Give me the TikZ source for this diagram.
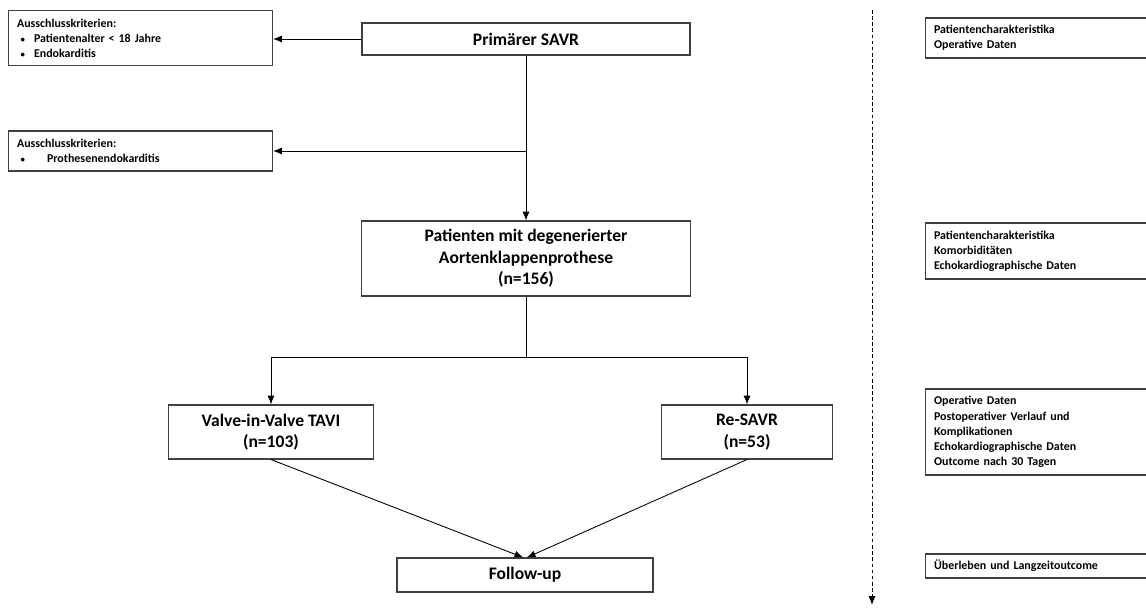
\documentclass[tikz,border=0pt]{standalone}
\usepackage{fontspec}
\setmainfont{Carlito}
\usetikzlibrary{arrows.meta, positioning, calc}
\definecolor{rahmengrau}{RGB}{64,64,64}
\newcommand{\punkt}[1]{\makebox[#1][l]{\hspace{0.07cm}{\fontsize{5}{5}\selectfont\textbullet}}}

\begin{document}
\begin{tikzpicture}[font=\bfseries\fontsize{10}{12.2}\selectfont,
    kasten/.style={draw=rahmengrau, line width=0.6pt, align=center, inner sep=2pt},
    kleinkasten/.style={draw=rahmengrau, line width=0.6pt, align=left, anchor=west,
        font=\bfseries\fontsize{6.8}{8.6}\selectfont, inner xsep=0.17cm, inner ysep=2pt},
    pfeil/.style={-{Latex[length=5pt,width=4pt]}, line width=0.5pt}]
        \useasboundingbox (0,0) rectangle (22.92,-12.26);
        \clip (0,0) rectangle (22.92,-12.26);

        \node[kasten, minimum width=6.56cm, minimum height=0.64cm] (primaer) at (10.52,-0.78) {Primärer SAVR};
        \node[kasten, minimum width=6.58cm, minimum height=1.5cm] (patienten) at (10.52,-5.17)
            {Patienten mit degenerierter\\Aortenklappenprothese\\(n=156)};
        \node[kasten, minimum width=4.1cm, minimum height=1.08cm] (viv) at (5.42,-8.64) {Valve-in-Valve TAVI\\(n=103)};
        \node[kasten, minimum width=3.42cm, minimum height=1.08cm] (resavr) at (14.94,-8.64) {Re-SAVR\\(n=53)};
        \node[kasten, minimum width=5.12cm, minimum height=0.68cm] (followup) at (10.5,-11.5) {Follow-up};

        \node[kleinkasten, text width=4.94cm, minimum height=1.1cm] (ausschluss1) at (0.16,-0.76)
            {Ausschlusskriterien:\\
             \punkt{0.34cm}Patientenalter < 18 Jahre\\
             \punkt{0.34cm}Endokarditis};
        \node[kleinkasten, text width=4.94cm, minimum height=0.8cm] (ausschluss2) at (0.16,-3.02)
            {Ausschlusskriterien:\\
             \punkt{0.6cm}Prothesenendokarditis};

        \foreach \name/\y/\h/\txt in {
            daten1/-0.76/0.8/{Patientencharakteristika\\Operative Daten},
            daten2/-5.02/1.12/{Patientencharakteristika\\Komorbiditäten\\Echokardiographische Daten},
            daten3/-8.64/1.72/{Operative Daten\\Postoperativer Verlauf und\\Komplikationen\\Echokardiographische Daten\\Outcome nach 30 Tagen},
            daten4/-11.32/0.48/{Überleben und Langzeitoutcome}}
        {
            \node[kleinkasten, text width=5cm, minimum height=\h cm] (\name) at (18.5,\y) {\txt};
        }

        \coordinate (gabel) at ($(patienten.south)+(0,-1.22)$);
        \coordinate (zeitoben) at (17.44,-0.2);
        \coordinate (zeitunten) at (17.44,-12.1);

        \draw[pfeil] (primaer.west) -- (primaer.west -| ausschluss1.east);
        \draw[pfeil] (primaer.south) -- (patienten.north);
        \draw[pfeil] (primaer.south |- ausschluss2.east) -- (ausschluss2.east);
        \draw[line width=0.5pt] (patienten.south) -- (gabel);
        \draw[pfeil] (gabel) -| (viv.north);
        \draw[pfeil] (gabel) -| (resavr.north);
        \draw[pfeil] (viv.south) -- ([xshift=-1pt]followup.north);
        \draw[pfeil] (resavr.south) -- ([xshift=1pt]followup.north);
        \draw[pfeil, dash pattern=on 2pt off 1.5pt] (zeitoben) -- (zeitunten);
    \end{tikzpicture}
\end{document}
